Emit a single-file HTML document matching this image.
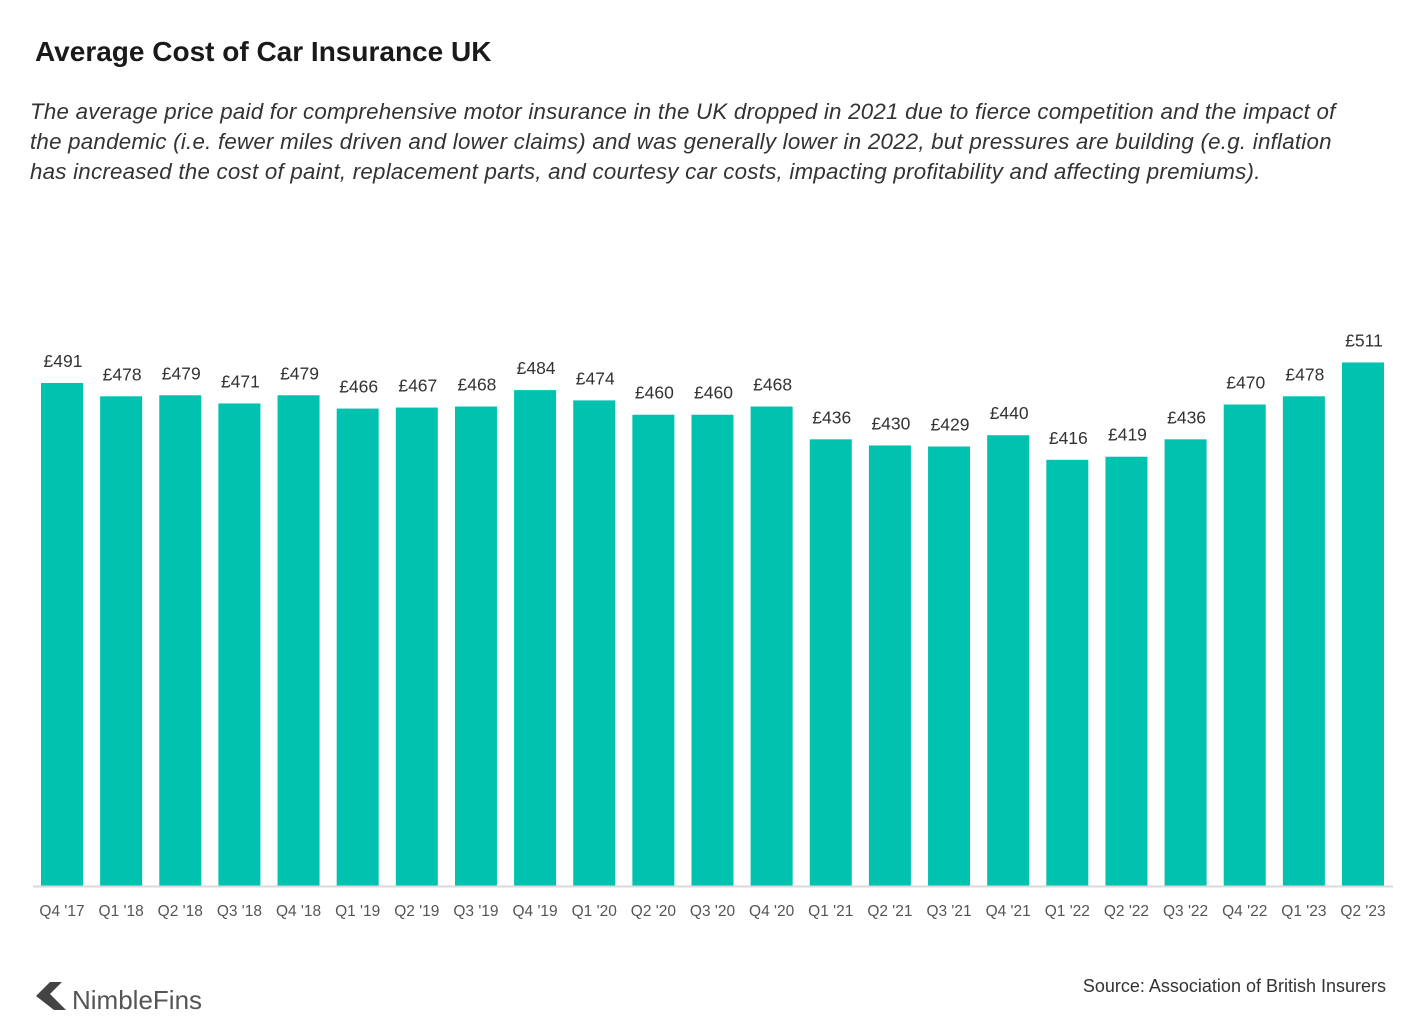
<!DOCTYPE html>
<html><head><meta charset="utf-8"><style>
body{margin:0;background:#fff;width:1425px;height:1034px;overflow:hidden;font-family:"Liberation Sans",sans-serif;}
#title{position:absolute;left:35px;top:36px;font-size:28px;font-weight:bold;color:#1a1a1a;}
#sub{position:absolute;left:30px;top:97px;width:1400px;font-size:22.3px;font-style:italic;color:#333;line-height:30px;white-space:nowrap;letter-spacing:0.24px;}
#src{position:absolute;right:39px;top:976px;font-size:18px;color:#333;}
#logo{position:absolute;left:36px;top:980px;}
</style></head><body>
<div id="title">Average Cost of Car Insurance UK</div>
<div id="sub">The average price paid for comprehensive motor insurance in the UK dropped in 2021 due to fierce competition and the impact of<br>the pandemic (i.e. fewer miles driven and lower claims) and was generally lower in 2022, but pressures are building (e.g. inflation<br>has increased the cost of paint, replacement parts, and courtesy car costs, impacting profitability and affecting premiums).</div>
<svg id="chart" width="1425" height="1034" style="position:absolute;left:0;top:0"></svg>
<div id="logo"><svg width="170" height="36"><polygon points="0,16 14,2 26,2 14,14 30,30 18,30" fill="#444"/><text x="36" y="29" font-size="26" fill="#555" font-family="Liberation Sans Narrow, Liberation Sans, sans-serif">NimbleFins</text></svg></div>
<div id="src">Source: Association of British Insurers</div>
<script>
const categories=["Q4 '17","Q1 '18","Q2 '18","Q3 '18","Q4 '18","Q1 '19","Q2 '19","Q3 '19","Q4 '19","Q1 '20","Q2 '20","Q3 '20","Q4 '20","Q1 '21","Q2 '21","Q3 '21","Q4 '21","Q1 '22","Q2 '22","Q3 '22","Q4 '22","Q1 '23","Q2 '23"];
const values=[491,478,479,471,479,466,467,468,484,474,460,460,468,436,430,429,440,416,419,436,470,478,511];
const NS="http://www.w3.org/2000/svg";
const svg=document.getElementById('chart');
const base=886, scale=1.0245, x0=62, pitch=(1363-62)/(values.length-1), bw=42;
const xs=i=>x0+i*pitch, ys=v=>base-v*scale;
function mk(t,a){const e=document.createElementNS(NS,t);for(const k in a)e.setAttribute(k,a[k]);svg.appendChild(e);return e;}
values.forEach((v,i)=>{
 const r=mk('rect',{x:xs(i)-bw/2,y:ys(v),width:bw,height:base-ys(v),fill:'#00c2ae'});
 
 
 const t=mk('text',{x:xs(i)+1,y:ys(v)-16,'text-anchor':'middle','font-size':17.5,fill:'#333'});
 t.textContent='£'+v;
 
 
 const c=mk('text',{x:xs(i),y:916,'text-anchor':'middle','font-size':15.5,fill:'#555'});
 c.textContent=categories[i];
 
 
});
const ax=mk('line',{x1:33,x2:1393,y1:886.5,y2:886.5,stroke:'#d9d9d9','stroke-width':2});


</script>
</body></html>
